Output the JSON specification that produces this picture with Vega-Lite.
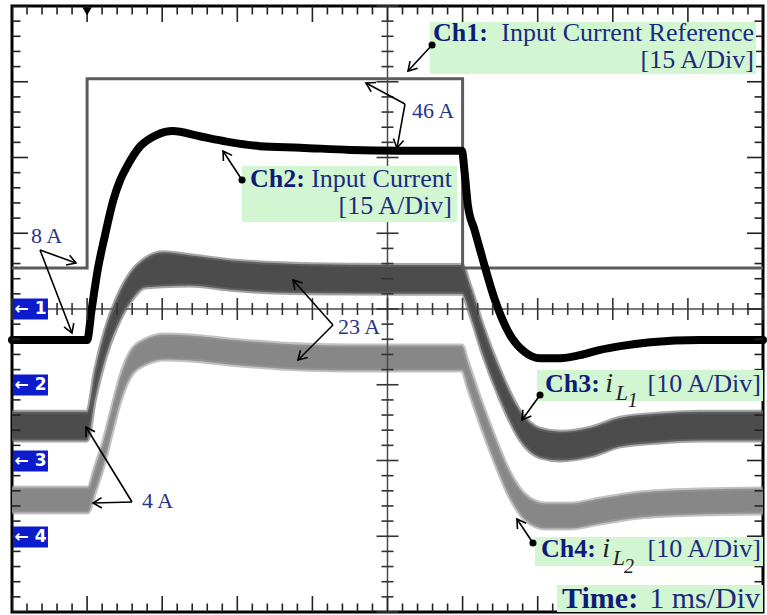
{
  "$schema": "https://vega.github.io/schema/vega-lite/v6.json",
  "width": 751,
  "height": 606,
  "autosize": {"type": "none"},
  "padding": {"left": 12, "top": 6, "right": 4, "bottom": 3},
  "background": "white",
  "config": {
    "view": {"stroke": "#000000", "strokeWidth": 3},
    "text": {"font": "Liberation Serif", "color": "#1c2a7e", "baseline": "alphabetic"}
  },
  "datasets": {
    "xt": [{"v":0},{"v":0.2},{"v":0.4},{"v":0.6},{"v":0.8},{"v":1},{"v":1.2},{"v":1.4},{"v":1.6},{"v":1.8},{"v":2},{"v":2.2},{"v":2.4},{"v":2.6},{"v":2.8},{"v":3},{"v":3.2},{"v":3.4},{"v":3.6},{"v":3.8},{"v":4},{"v":4.2},{"v":4.4},{"v":4.6},{"v":4.8},{"v":5},{"v":5.2},{"v":5.4},{"v":5.6},{"v":5.8},{"v":6},{"v":6.2},{"v":6.4},{"v":6.6},{"v":6.8},{"v":7},{"v":7.2},{"v":7.4},{"v":7.6},{"v":7.8},{"v":8},{"v":8.2},{"v":8.4},{"v":8.6},{"v":8.8},{"v":9},{"v":9.2},{"v":9.4},{"v":9.6},{"v":9.8},{"v":10}],
    "yt": [{"v":-4},{"v":-3.8},{"v":-3.6},{"v":-3.4},{"v":-3.2},{"v":-3},{"v":-2.8},{"v":-2.6},{"v":-2.4},{"v":-2.2},{"v":-2},{"v":-1.8},{"v":-1.6},{"v":-1.4},{"v":-1.2},{"v":-1},{"v":-0.8},{"v":-0.6},{"v":-0.4},{"v":-0.2},{"v":0},{"v":0.2},{"v":0.4},{"v":0.6},{"v":0.8},{"v":1},{"v":1.2},{"v":1.4},{"v":1.6},{"v":1.8},{"v":2},{"v":2.2},{"v":2.4},{"v":2.6},{"v":2.8},{"v":3},{"v":3.2},{"v":3.4},{"v":3.6},{"v":3.8},{"v":4}],
    "ch1": [{"i":0,"x":0,"y":0.54},{"i":1,"x":1.0,"y":0.54},{"i":2,"x":1.0,"y":3.04},{"i":3,"x":6.0,"y":3.04},{"i":4,"x":6.0,"y":0.54},{"i":5,"x":10,"y":0.54}],
    "ch2": [{"x":0,"y":-0.41},{"x":1.0,"y":-0.41},{"x":1.06,"y":-0.01},{"x":1.14,"y":0.51},{"x":1.24,"y":0.98},{"x":1.35,"y":1.44},{"x":1.44,"y":1.70},{"x":1.53,"y":1.88},{"x":1.70,"y":2.14},{"x":1.93,"y":2.30},{"x":2.14,"y":2.35},{"x":2.50,"y":2.28},{"x":2.86,"y":2.21},{"x":3.30,"y":2.15},{"x":3.84,"y":2.13},{"x":4.50,"y":2.10},{"x":5.17,"y":2.09},{"x":5.99,"y":2.09},{"x":6.03,"y":1.77},{"x":6.07,"y":1.37},{"x":6.16,"y":1.04},{"x":6.27,"y":0.65},{"x":6.43,"y":0.12},{"x":6.63,"y":-0.34},{"x":6.83,"y":-0.57},{"x":7.03,"y":-0.65},{"x":7.30,"y":-0.65},{"x":7.56,"y":-0.61},{"x":7.83,"y":-0.54},{"x":8.10,"y":-0.49},{"x":8.50,"y":-0.44},{"x":9.16,"y":-0.41},{"x":10,"y":-0.41}],
    "ch3": [{"x":0,"lo":-1.735,"hi":-1.355},{"x":1.0,"lo":-1.735,"hi":-1.355},{"x":1.105,"lo":-1.193,"hi":-0.813},{"x":1.238,"lo":-0.665,"hi":-0.285},{"x":1.398,"lo":-0.23,"hi":0.15},{"x":1.571,"lo":0.087,"hi":0.467},{"x":1.771,"lo":0.285,"hi":0.665},{"x":2.011,"lo":0.30,"hi":0.75},{"x":2.37,"lo":0.31,"hi":0.71},{"x":2.903,"lo":0.255,"hi":0.645},{"x":3.569,"lo":0.215,"hi":0.605},{"x":4.5,"lo":0.205,"hi":0.585},{"x":5.99,"lo":0.20,"hi":0.58},{"x":6.10,"lo":-0.071,"hi":0.309},{"x":6.27,"lo":-0.599,"hi":-0.219},{"x":6.50,"lo":-1.193,"hi":-0.813},{"x":6.76,"lo":-1.721,"hi":-1.341},{"x":7.03,"lo":-1.959,"hi":-1.579},{"x":7.30,"lo":-1.999,"hi":-1.619},{"x":7.70,"lo":-1.946,"hi":-1.566},{"x":8.10,"lo":-1.814,"hi":-1.434},{"x":8.63,"lo":-1.761,"hi":-1.381},{"x":9.16,"lo":-1.735,"hi":-1.355},{"x":10,"lo":-1.735,"hi":-1.355}],
    "ch4": [{"x":0,"lo":-2.686,"hi":-2.356},{"x":1.01,"lo":-2.686,"hi":-2.356},{"x":1.105,"lo":-2.422,"hi":-2.092},{"x":1.212,"lo":-2.092,"hi":-1.762},{"x":1.332,"lo":-1.63,"hi":-1.30},{"x":1.438,"lo":-1.234,"hi":-0.904},{"x":1.571,"lo":-0.904,"hi":-0.574},{"x":1.771,"lo":-0.733,"hi":-0.403},{"x":2.037,"lo":-0.667,"hi":-0.337},{"x":2.37,"lo":-0.68,"hi":-0.35},{"x":2.903,"lo":-0.733,"hi":-0.403},{"x":3.569,"lo":-0.785,"hi":-0.455},{"x":4.5,"lo":-0.812,"hi":-0.482},{"x":5.99,"lo":-0.812,"hi":-0.482},{"x":6.07,"lo":-1.036,"hi":-0.706},{"x":6.23,"lo":-1.498,"hi":-1.168},{"x":6.43,"lo":-2.026,"hi":-1.696},{"x":6.63,"lo":-2.488,"hi":-2.158},{"x":6.83,"lo":-2.779,"hi":-2.449},{"x":7.10,"lo":-2.898,"hi":-2.568},{"x":7.43,"lo":-2.898,"hi":-2.568},{"x":7.83,"lo":-2.832,"hi":-2.502},{"x":8.36,"lo":-2.752,"hi":-2.422},{"x":9.16,"lo":-2.713,"hi":-2.383},{"x":10,"lo":-2.70,"hi":-2.37}],
    "boxes": [{"x":5.566,"x2":9.907,"y":3.789,"y2":3.102},{"x":3.063,"x2":5.925,"y":1.888,"y2":1.148},{"x":6.991,"x2":10,"y":-0.805,"y2":-1.215},{"x":6.964,"x2":10,"y":-3.01,"y2":-3.393},{"x":7.257,"x2":10,"y":-3.644,"y2":-4}],
    "blue": [{"label":"← 1","x":0.013,"x2":0.479,"y":-0.139,"y2":0.139,"yc":0},{"label":"← 2","x":0.013,"x2":0.479,"y":-1.142,"y2":-0.864,"yc":-1.003},{"label":"← 3","x":0.013,"x2":0.479,"y":-2.146,"y2":-1.868,"yc":-2.007},{"label":"← 4","x":0.013,"x2":0.479,"y":-3.149,"y2":-2.871,"yc":-3.01}],
    "arrows": [{"x":5.593,"y":3.485,"x2":5.273,"y2":3.142},{"x":5.233,"y":2.706,"x2":4.714,"y2":2.983},{"x":5.233,"y":2.706,"x2":5.126,"y2":2.125},{"x":3.063,"y":1.703,"x2":2.81,"y2":2.086},{"x":0.373,"y":0.779,"x2":0.852,"y2":0.607},{"x":0.373,"y":0.779,"x2":0.799,"y2":-0.317},{"x":4.274,"y":-0.211,"x2":3.742,"y2":0.383},{"x":4.274,"y":-0.211,"x2":3.808,"y2":-0.673},{"x":1.598,"y":-2.548,"x2":0.985,"y2":-1.558},{"x":1.598,"y":-2.548,"x2":1.079,"y2":-2.561},{"x":7.031,"y":-1.135,"x2":6.791,"y2":-1.465},{"x":6.937,"y":-3.089,"x2":6.724,"y2":-2.772}],
    "dots": [{"x":5.593,"y":3.485},{"x":3.063,"y":1.703},{"x":7.031,"y":-1.135},{"x":6.937,"y":-3.089}],
    "tBold": [{"x":5.606,"y":3.538,"t":"Ch1:"},{"x":3.169,"y":1.611,"t":"Ch2:"},{"x":7.097,"y":-1.096,"t":"Ch3:"},{"x":7.044,"y":-3.274,"t":"Ch4:"}],
    "tRight": [{"x":9.88,"y":3.538,"t":"Input Current Reference"},{"x":9.88,"y":3.182,"t":"[15 A/Div]"},{"x":5.859,"y":1.611,"t":"Input Current"},{"x":5.859,"y":1.254,"t":"[15 A/Div]"},{"x":9.973,"y":-1.096,"t":"[10 A/Div]"},{"x":9.973,"y":-3.274,"t":"[10 A/Div]"}],
    "tI": [{"x":7.9,"y":-1.096,"t":"i"},{"x":7.86,"y":-3.274,"t":"i"}],
    "tL": [{"x":8.04,"y":-1.201,"t":"L"},{"x":8.0,"y":-3.38,"t":"L"}],
    "tN": [{"x":8.2,"y":-1.294,"t":"1"},{"x":8.15,"y":-3.485,"t":"2"}],
    "tTimeB": [{"x":7.324,"y":-3.947,"t":"Time:"}],
    "tTimeR": [{"x":9.96,"y":-3.947,"t":"1 ms/Div"}],
    "tNote": [{"x":5.326,"y":2.521,"t":"46 A"},{"x":0.253,"y":0.871,"t":"8 A"},{"x":4.341,"y":-0.33,"t":"23 A"},{"x":1.731,"y":-2.627,"t":"4 A"}],
    "trig": [{"x":1.0,"y":3.93}]
  },
  "layer": [
    {
      "data": {"name": "ch4"},
      "mark": {"type": "area", "color": "#878787", "interpolate": "monotone"},
      "encoding": {
        "x": {"field": "x", "type": "quantitative", "scale": {"domain": [0, 10], "nice": false, "zero": false},
              "axis": {"values": [1,2,3,4,6,7,8,9], "grid": true, "gridColor": "#8c8c8c", "gridWidth": 2, "gridDash": [2, 13.15], "gridDashOffset": 1, "ticks": false, "labels": false, "domain": false, "title": null}},
        "y": {"field": "lo", "type": "quantitative", "scale": {"domain": [-4, 4], "nice": false, "zero": false},
              "axis": {"values": [-3,-2,-1,1,2,3], "grid": true, "gridColor": "#8c8c8c", "gridWidth": 2, "gridDash": [2, 13.02], "gridDashOffset": 1, "ticks": false, "labels": false, "domain": false, "title": null}},
        "y2": {"field": "hi"}
      }
    },
    {
      "data": {"name": "ch4"},
      "mark": {"type": "line", "color": "#9a9a9a", "strokeWidth": 4, "opacity": 0.6, "interpolate": "monotone"},
      "encoding": {
        "x": {"field": "x", "type": "quantitative", "axis": null},
        "y": {"field": "lo", "type": "quantitative", "axis": null}
      }
    },
    {
      "data": {"name": "ch4"},
      "mark": {"type": "line", "color": "#9a9a9a", "strokeWidth": 4, "opacity": 0.6, "interpolate": "monotone"},
      "encoding": {
        "x": {"field": "x", "type": "quantitative", "axis": null},
        "y": {"field": "hi", "type": "quantitative", "axis": null}
      }
    },
    {
      "data": {"values": [{}]},
      "mark": {"type": "rule", "color": "#4a4a4a", "strokeWidth": 1.5},
      "encoding": {"y": {"datum": 0, "type": "quantitative", "axis": null}}
    },
    {
      "data": {"values": [{}]},
      "mark": {"type": "rule", "color": "#4a4a4a", "strokeWidth": 1.5},
      "encoding": {"x": {"datum": 5, "type": "quantitative", "axis": null}}
    },
    {
      "data": {"name": "ch3"},
      "mark": {"type": "area", "color": "#4c4c4c", "interpolate": "monotone"},
      "encoding": {
        "x": {"field": "x", "type": "quantitative", "axis": null},
        "y": {"field": "lo", "type": "quantitative", "axis": null},
        "y2": {"field": "hi"}
      }
    },
    {
      "data": {"name": "ch3"},
      "mark": {"type": "line", "color": "#6a6a6a", "strokeWidth": 4, "opacity": 0.6, "interpolate": "monotone"},
      "encoding": {
        "x": {"field": "x", "type": "quantitative", "axis": null},
        "y": {"field": "lo", "type": "quantitative", "axis": null}
      }
    },
    {
      "data": {"name": "ch3"},
      "mark": {"type": "line", "color": "#6a6a6a", "strokeWidth": 4, "opacity": 0.6, "interpolate": "monotone"},
      "encoding": {
        "x": {"field": "x", "type": "quantitative", "axis": null},
        "y": {"field": "hi", "type": "quantitative", "axis": null}
      }
    },
    {
      "data": {"name": "ch1"},
      "mark": {"type": "line", "color": "#5c5c5c", "strokeWidth": 3, "interpolate": "linear"},
      "encoding": {
        "x": {"field": "x", "type": "quantitative", "axis": null},
        "y": {"field": "y", "type": "quantitative", "axis": null},
        "order": {"field": "i", "type": "quantitative"}
      }
    },
    {
      "data": {"name": "ch2"},
      "mark": {"type": "line", "color": "#000000", "strokeWidth": 8, "interpolate": "monotone", "strokeCap": "round", "strokeJoin": "round"},
      "encoding": {
        "x": {"field": "x", "type": "quantitative", "axis": null},
        "y": {"field": "y", "type": "quantitative", "axis": null}
      }
    },
    {
      "data": {"name": "xt"},
      "mark": {"type": "tick", "orient": "vertical", "thickness": 1.6, "color": "#222222", "opacity": 1, "clip": true},
      "encoding": {
        "x": {"field": "v", "type": "quantitative", "axis": null},
        "y": {"datum": 4, "type": "quantitative", "axis": null},
        "size": {"condition": {"test": "abs(datum.v - round(datum.v)) < 0.01", "value": 32}, "value": 17}
      }
    },
    {
      "data": {"name": "xt"},
      "mark": {"type": "tick", "orient": "vertical", "thickness": 1.6, "color": "#222222", "opacity": 1, "clip": true},
      "encoding": {
        "x": {"field": "v", "type": "quantitative", "axis": null},
        "y": {"datum": -4, "type": "quantitative", "axis": null},
        "size": {"condition": {"test": "abs(datum.v - round(datum.v)) < 0.01", "value": 32}, "value": 17}
      }
    },
    {
      "data": {"name": "xt"},
      "mark": {"type": "tick", "orient": "vertical", "thickness": 1.6, "color": "#333333", "opacity": 1},
      "encoding": {
        "x": {"field": "v", "type": "quantitative", "axis": null},
        "y": {"datum": 0, "type": "quantitative", "axis": null},
        "size": {"condition": {"test": "abs(datum.v - round(datum.v)) < 0.01", "value": 22}, "value": 12}
      }
    },
    {
      "data": {"name": "yt"},
      "mark": {"type": "tick", "orient": "horizontal", "thickness": 1.6, "color": "#222222", "opacity": 1, "clip": true},
      "encoding": {
        "y": {"field": "v", "type": "quantitative", "axis": null},
        "x": {"datum": 0, "type": "quantitative", "axis": null},
        "size": {"condition": {"test": "abs(datum.v - round(datum.v)) < 0.01", "value": 32}, "value": 17}
      }
    },
    {
      "data": {"name": "yt"},
      "mark": {"type": "tick", "orient": "horizontal", "thickness": 1.6, "color": "#222222", "opacity": 1, "clip": true},
      "encoding": {
        "y": {"field": "v", "type": "quantitative", "axis": null},
        "x": {"datum": 10, "type": "quantitative", "axis": null},
        "size": {"condition": {"test": "abs(datum.v - round(datum.v)) < 0.01", "value": 32}, "value": 17}
      }
    },
    {
      "data": {"name": "yt"},
      "mark": {"type": "tick", "orient": "horizontal", "thickness": 1.6, "color": "#333333", "opacity": 1},
      "encoding": {
        "y": {"field": "v", "type": "quantitative", "axis": null},
        "x": {"datum": 5, "type": "quantitative", "axis": null},
        "size": {"condition": {"test": "abs(datum.v - round(datum.v)) < 0.01", "value": 22}, "value": 12}
      }
    },
    {
      "data": {"name": "boxes"},
      "mark": {"type": "rect", "color": "#d2f5d2"},
      "encoding": {
        "x": {"field": "x", "type": "quantitative", "axis": null},
        "x2": {"field": "x2"},
        "y": {"field": "y", "type": "quantitative", "axis": null},
        "y2": {"field": "y2"}
      }
    },
    {
      "data": {"name": "blue"},
      "mark": {"type": "rect", "color": "#0c1ccc"},
      "encoding": {
        "x": {"field": "x", "type": "quantitative", "axis": null},
        "x2": {"field": "x2"},
        "y": {"field": "y", "type": "quantitative", "axis": null},
        "y2": {"field": "y2"}
      }
    },
    {
      "data": {"name": "blue"},
      "mark": {"type": "text", "font": "DejaVu Sans", "fontWeight": "bold", "fontSize": 17, "color": "#ffffff", "align": "center", "baseline": "middle"},
      "encoding": {
        "x": {"datum": 0.246, "type": "quantitative", "axis": null},
        "y": {"field": "yc", "type": "quantitative", "axis": null},
        "text": {"field": "label"}
      }
    },
    {
      "data": {"name": "trig"},
      "mark": {"type": "point", "shape": "triangle-down", "filled": true, "color": "#000000", "size": 90, "opacity": 1},
      "encoding": {
        "x": {"field": "x", "type": "quantitative", "axis": null},
        "y": {"field": "y", "type": "quantitative", "axis": null}
      }
    },
    {
      "data": {"name": "arrows"},
      "mark": {"type": "rule", "color": "#000000", "strokeWidth": 1.6},
      "encoding": {
        "x": {"field": "x", "type": "quantitative", "axis": null},
        "x2": {"field": "x2"},
        "y": {"field": "y", "type": "quantitative", "axis": null},
        "y2": {"field": "y2"}
      }
    },
    {
      "data": {"name": "arrows"},
      "transform": [{"calculate": "atan2(-(datum.y2 - datum.y) * 75.75, (datum.x2 - datum.x) * 75.1) * 180 / PI", "as": "ang"}],
      "mark": {"type": "point", "shape": "M -1 -0.6 L 0 0 L -1 0.6", "filled": false, "stroke": "#000000", "strokeWidth": 1.6, "size": 300, "opacity": 1},
      "encoding": {
        "x": {"field": "x2", "type": "quantitative", "axis": null},
        "y": {"field": "y2", "type": "quantitative", "axis": null},
        "angle": {"field": "ang", "type": "quantitative", "scale": null}
      }
    },
    {
      "data": {"name": "dots"},
      "mark": {"type": "point", "shape": "circle", "filled": true, "color": "#000000", "size": 50, "opacity": 1},
      "encoding": {
        "x": {"field": "x", "type": "quantitative", "axis": null},
        "y": {"field": "y", "type": "quantitative", "axis": null}
      }
    },
    {
      "data": {"name": "tBold"},
      "mark": {"type": "text", "fontWeight": "bold", "fontSize": 26, "align": "left", "color": "#0e1c78"},
      "encoding": {
        "x": {"field": "x", "type": "quantitative", "axis": null},
        "y": {"field": "y", "type": "quantitative", "axis": null},
        "text": {"field": "t"}
      }
    },
    {
      "data": {"name": "tRight"},
      "mark": {"type": "text", "fontSize": 26, "align": "right"},
      "encoding": {
        "x": {"field": "x", "type": "quantitative", "axis": null},
        "y": {"field": "y", "type": "quantitative", "axis": null},
        "text": {"field": "t"}
      }
    },
    {
      "data": {"name": "tI"},
      "mark": {"type": "text", "fontSize": 28, "fontStyle": "italic", "align": "left", "color": "#222222"},
      "encoding": {
        "x": {"field": "x", "type": "quantitative", "axis": null},
        "y": {"field": "y", "type": "quantitative", "axis": null},
        "text": {"field": "t"}
      }
    },
    {
      "data": {"name": "tL"},
      "mark": {"type": "text", "fontSize": 22, "fontStyle": "italic", "align": "left", "color": "#222222"},
      "encoding": {
        "x": {"field": "x", "type": "quantitative", "axis": null},
        "y": {"field": "y", "type": "quantitative", "axis": null},
        "text": {"field": "t"}
      }
    },
    {
      "data": {"name": "tN"},
      "mark": {"type": "text", "fontSize": 20, "fontStyle": "italic", "align": "left", "color": "#222222"},
      "encoding": {
        "x": {"field": "x", "type": "quantitative", "axis": null},
        "y": {"field": "y", "type": "quantitative", "axis": null},
        "text": {"field": "t"}
      }
    },
    {
      "data": {"name": "tTimeB"},
      "mark": {"type": "text", "fontWeight": "bold", "fontSize": 30, "align": "left", "color": "#0e1c78"},
      "encoding": {
        "x": {"field": "x", "type": "quantitative", "axis": null},
        "y": {"field": "y", "type": "quantitative", "axis": null},
        "text": {"field": "t"}
      }
    },
    {
      "data": {"name": "tTimeR"},
      "mark": {"type": "text", "fontSize": 30, "align": "right"},
      "encoding": {
        "x": {"field": "x", "type": "quantitative", "axis": null},
        "y": {"field": "y", "type": "quantitative", "axis": null},
        "text": {"field": "t"}
      }
    },
    {
      "data": {"name": "tNote"},
      "mark": {"type": "text", "fontSize": 22, "align": "left", "color": "#2a3488"},
      "encoding": {
        "x": {"field": "x", "type": "quantitative", "axis": null},
        "y": {"field": "y", "type": "quantitative", "axis": null},
        "text": {"field": "t"}
      }
    }
  ]
}
